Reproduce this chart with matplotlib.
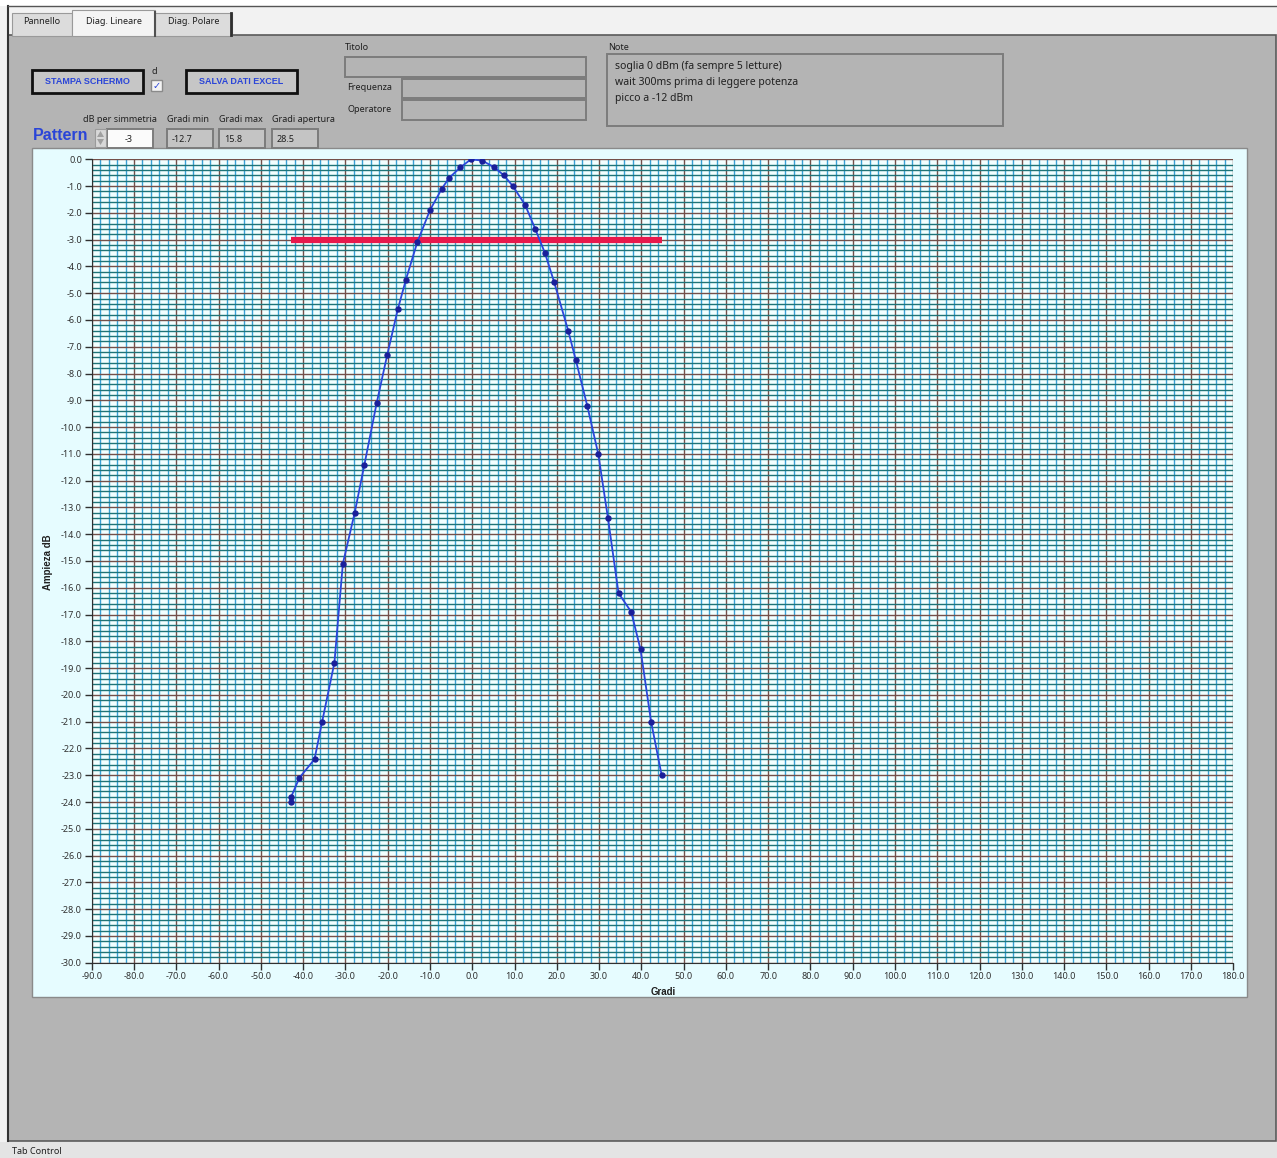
import numpy as np
import matplotlib
matplotlib.use("Agg")
import matplotlib.pyplot as plt
from matplotlib.patches import Rectangle, Polygon
from matplotlib.ticker import MultipleLocator, FormatStrFormatter

plt.rcParams['font.family'] = ['Noto Sans', 'DejaVu Sans']

W, H = 1277, 1158

gradi = [-42.9, -42.8, -40.9, -37.3, -35.5, -32.6, -30.6, -27.8, -25.5, -22.6,
         -20.1, -17.6, -15.7, -13.0, -10.0, -7.2, -5.5, -2.8, -0.3, 2.4,
         5.2, 7.5, 9.6, 12.5, 14.9, 17.2, 19.4, 22.7, 24.5, 27.2,
         29.8, 32.1, 34.6, 37.6, 39.8, 42.3, 44.8]
ampiezza = [-24.0, -23.8, -23.1, -22.4, -21.0, -18.8, -15.1, -13.2, -11.4, -9.1,
            -7.3, -5.6, -4.5, -3.1, -1.9, -1.1, -0.7, -0.3, 0.0, -0.05,
            -0.3, -0.6, -1.0, -1.7, -2.6, -3.5, -4.6, -6.4, -7.5, -9.2,
            -11.0, -13.4, -16.2, -16.9, -18.3, -21.0, -23.0]
soglia = -3.0

tabs = ["Pannello", "Diag. Lineare", "Diag. Polare"]
note_lines = ["soglia 0 dBm (fa sempre 5 letture)",
              "wait 300ms prima di leggere potenza",
              "picco a -12 dBm"]
campi = ["dB per simmetria", "Gradi min", "Gradi max", "Gradi apertura"]
valori = ["-3", "-12.7", "15.8", "28.5"]

PANEL = '#b4b4b4'
BLUE_TXT = '#2a45d8'
BOLD = ['Liberation Sans', 'DejaVu Sans']

fig = plt.figure(figsize=(W / 100, H / 100), dpi=100)
bg = fig.add_axes([0, 0, 1, 1])
bg.set_xlim(0, W)
bg.set_ylim(H, 0)
bg.axis('off')


def rect(x0, y0, x1, y1, fc, ec='none', lw=1.0, z=1):
    bg.add_patch(Rectangle((x0, y0), x1 - x0, y1 - y0, facecolor=fc,
                           edgecolor=ec, linewidth=lw, zorder=z))


def label(x, y, s, size=7, color='#202020', **kw):
    bg.text(x, y, s, fontsize=size, color=color, va='center', zorder=5, **kw)


def button(x0, y0, x1, y1, s):
    rect(x0, y0, x1, y1, '#c6c6c6', '#101010', 2.0, 3)
    label((x0 + x1) / 2, (y0 + y1) / 2, s, 6.5, BLUE_TXT,
          ha='center', fontweight='bold', family=BOLD)


def field(x0, y0, x1, y1, fc=PANEL):
    rect(x0, y0, x1, y1, fc, '#7c7c7c', 1.4, 3)


# window / tab control
rect(0, 0, W, H, '#f2f2f2', z=0)
rect(0, 0, W, 6, '#ffffff', z=0)
rect(8, 35, 1276, 1141, PANEL, '#5a5a5a', 1.2)
rect(0, 1142, W, H, '#e4e4e4')
bg.plot([8, 8], [6, 1141], color='#333333', lw=1.5, zorder=2)
bg.plot([8, 1276], [6, 6], color='#555555', lw=1.0, zorder=2)

tab_x = [(12, 72), (72, 155), (155, 232)]
for (x0, x1), t in zip(tab_x, tabs):
    sel = t == "Diag. Lineare"
    rect(x0, 10 if sel else 13, x1, 36, '#f4f4f4' if sel else '#dcdcdc',
         '#9a9a9a', 0.8, 2)
    label((x0 + x1) / 2, 21, t, 6.5, '#202020', ha='center')
bg.plot([231, 231], [13, 35], color='#303030', lw=2, zorder=3)
bg.plot([155, 155], [12, 36], color='#505050', lw=1.5, zorder=3)
label(12, 1151, "Tab Control", 6.5, '#202020')

# controls
button(32, 70, 143, 93, "STAMPA SCHERMO")
button(186, 70, 297, 93, "SALVA DATI EXCEL")
label(152, 71, "d", 6.5)
rect(151, 80, 162, 91, '#f4f4f4', '#8a8a8a', 1.0, 3)
bg.text(156.5, 86, "\u2713", fontsize=7, color=BLUE_TXT, ha='center',
        va='center', family='DejaVu Sans', zorder=6)

label(345, 47, "Titolo", 6.5)
field(345, 57, 586, 77)
label(347, 88, "Frequenza", 6.5)
field(402, 79, 586, 98)
label(348, 110, "Operatore", 6.5)
field(402, 100, 586, 120)

label(608, 48, "Note", 6.5)
field(607, 54, 1003, 126)
for i, s in enumerate(note_lines):
    label(615, 66 + 16 * i, s, 7.5)

lab_x = [(83, 162), (167, 213), (219, 265), (272, 340)]
for (x0, x1), s in zip(lab_x, campi):
    label(x0, 119, s, 6.5)
box_x = [(107, 153), (167, 213), (219, 265), (272, 318)]
for i, ((x0, x1), v) in enumerate(zip(box_x, valori)):
    field(x0, 129, x1, 148, '#fbfbfb' if i == 0 else '#c4c4c4')
    label(x0 + 5 if i else x0 + 18, 139, v, 6.5)

label(33, 136, "Pattern", 11.5, BLUE_TXT, fontweight='bold', family=BOLD)
rect(95, 129, 106, 147, '#d8d8d8', '#9a9a9a', 0.8, 3)
bg.add_patch(Polygon([[97, 137], [104, 137], [100.5, 131]], closed=True,
                     fc='#a0a0a0', zorder=4))
bg.add_patch(Polygon([[97, 139], [104, 139], [100.5, 145]], closed=True,
                     fc='#a0a0a0', zorder=4))

# graph panel
rect(32, 148, 1247, 997, '#e6fcff', '#8a8a8a', 1.0, 2)
bg.text(48, 562, "Ampieza dB", rotation=90, fontsize=7, fontweight='bold',
        family=BOLD, color='#202020', ha='center', va='center', zorder=5)
bg.text(663, 992, "Gradi", fontsize=7, fontweight='bold', family=BOLD,
        color='#202020', ha='center', va='center', zorder=5)

x0p, x1p, y0p, y1p = 91.7, 1233.3, 159.3, 962.7
ax = fig.add_axes([x0p / W, 1 - y1p / H, (x1p - x0p) / W, (y1p - y0p) / H])
ax.set_facecolor('#f2ffff')
ax.set_xlim(-90, 180)
ax.set_ylim(-30, 0)

ax.xaxis.set_major_locator(MultipleLocator(10))
ax.xaxis.set_minor_locator(MultipleLocator(2))
ax.yaxis.set_major_locator(MultipleLocator(1))
ax.yaxis.set_minor_locator(MultipleLocator(0.2))
ax.xaxis.set_major_formatter(FormatStrFormatter('%.1f'))
ax.yaxis.set_major_formatter(FormatStrFormatter('%.1f'))

ax.grid(which='minor', axis='y', color='#1f7478', lw=1.0, zorder=0)
ax.grid(which='minor', axis='x', color='#38a0d6', lw=1.0, zorder=0)
ax.grid(which='major', color='#74504a', lw=1.0, zorder=0)
ax.set_axisbelow(True)

ax.tick_params(which='major', direction='out', length=5, width=1,
               color='#303030', labelsize=6.5, labelcolor='#303030', pad=2)
ax.tick_params(which='minor', length=0)
for side in ['top', 'right']:
    ax.spines[side].set_visible(False)
for side in ['left', 'bottom']:
    ax.spines[side].set_color('#303030')

ax.plot([min(gradi), max(gradi)], [soglia, soglia], color='#e8184c',
        lw=4.5, solid_capstyle='butt', zorder=3)
ax.plot(gradi, ampiezza, color='#2b46dc', lw=1.3, zorder=4)
ax.plot(gradi, ampiezza, ls='none', marker='o', ms=3.6, color='#1a1f9a',
        zorder=5)

fig.savefig("out.png", dpi=100)
